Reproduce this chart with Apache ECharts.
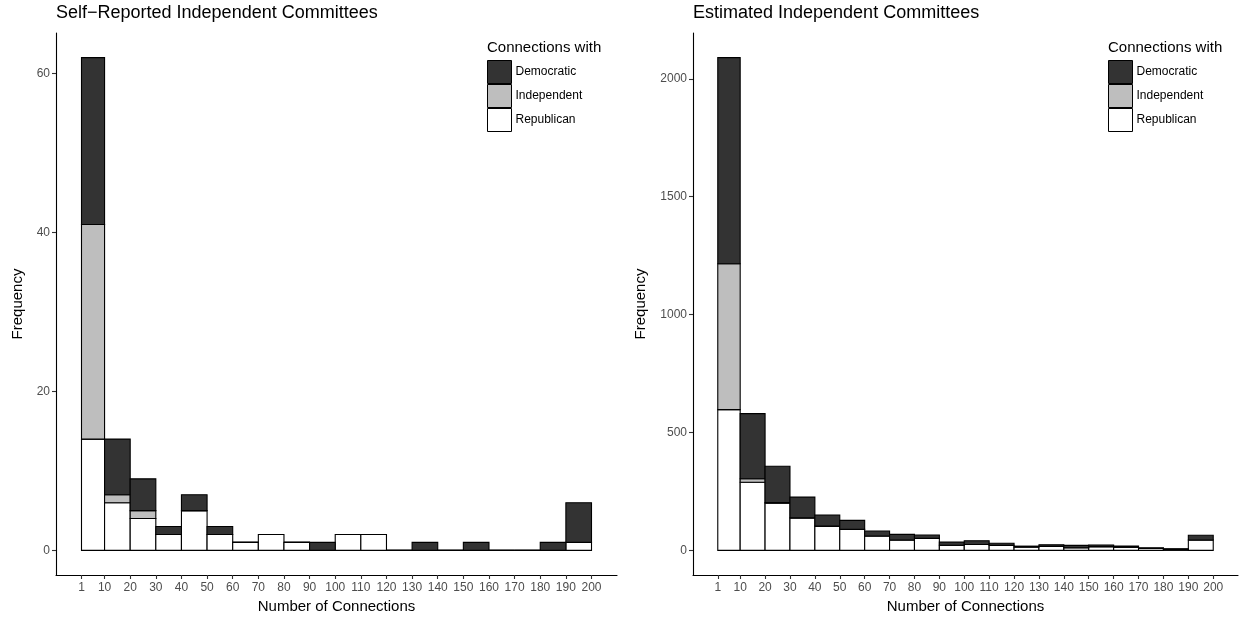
<!DOCTYPE html>
<html>
<head>
<meta charset="utf-8">
<script src="https://cdn.jsdelivr.net/npm/echarts@6/dist/echarts.min.js"></script>
<style>
  html, body { margin: 0; padding: 0; background: #fff; }
  #chart { width: 1243px; height: 619px; }
</style>
</head>
<body>
<div id="chart"></div>
<script>
// Histogram bins (number of connections)
const binStarts = [1, 10, 20, 30, 40, 50, 60, 70, 80, 90, 100, 110, 120, 130, 140, 150, 160, 170, 180, 190];
const binEnds   = [10, 20, 30, 40, 50, 60, 70, 80, 90, 100, 110, 120, 130, 140, 150, 160, 170, 180, 190, 200];
const xTicks = [1, 10, 20, 30, 40, 50, 60, 70, 80, 90, 100, 110, 120, 130, 140, 150, 160, 170, 180, 190, 200];

// Self-reported independent committees: counts per bin
const selfRepublican  = [14, 6, 4, 2, 5, 2, 1, 2, 1, 0, 2, 2, 0, 0, 0, 0, 0, 0, 0, 1];
const selfIndependent = [27, 1, 1, 0, 0, 0, 0, 0, 0, 0, 0, 0, 0, 0, 0, 0, 0, 0, 0, 0];
const selfDemocratic  = [21, 7, 4, 1, 2, 1, 0, 0, 0, 1, 0, 0, 0, 1, 0, 1, 0, 0, 1, 5];
const selfYTicks = [0, 20, 40, 60];

// Estimated independent committees: counts per bin
const estRepublican  = [597, 289, 200, 138, 103, 89, 61, 44, 51, 22, 25, 21, 14, 17, 11, 16, 13, 8, 3, 44];
const estIndependent = [619, 15, 3, 0, 0, 0, 0, 0, 0, 0, 0, 0, 0, 0, 0, 0, 0, 0, 0, 0];
const estDemocratic  = [874, 276, 154, 88, 47, 38, 21, 24, 14, 13, 16, 9, 4, 7, 10, 7, 5, 3, 4, 20];
const estYTicks = [0, 500, 1000, 1500, 2000];

const partyNames = ['Democratic', 'Independent', 'Republican'];
const partyColors = { Democratic: '#333333', Independent: '#bebebe', Republican: '#ffffff' };

// Stack order bottom→top: Republican, Independent, Democratic
function stackRows(rep, ind, dem) {
  const layers = { Republican: [], Independent: [], Democratic: [] };
  for (let i = 0; i < binStarts.length; i++) {
    let base = 0;
    [['Republican', rep], ['Independent', ind], ['Democratic', dem]].forEach(([name, arr]) => {
      const top = base + arr[i];
      layers[name].push([binStarts[i], binEnds[i], base, top]);
      base = top;
    });
  }
  return layers;
}

function renderBar(params, api) {
  const p0 = api.coord([api.value(0), api.value(3)]);
  const p1 = api.coord([api.value(1), api.value(2)]);
  return {
    type: 'rect',
    shape: { x: p0[0], y: p0[1], width: p1[0] - p0[0], height: p1[1] - p0[1] },
    style: { fill: api.visual('color'), stroke: '#000', lineWidth: 1.1 }
  };
}

function maxTotal(rep, ind, dem) {
  return Math.max(...rep.map((v, i) => v + ind[i] + dem[i]));
}

const plainNumber = v => String(v);

const panels = [
  { title: 'Self\u2212Reported Independent Committees', rep: selfRepublican, ind: selfIndependent, dem: selfDemocratic,
    yTicks: selfYTicks, grid: { left: 56, right: 626, top: 33, bottom: 44 }, nameGap: 31, legendLeft: 487 },
  { title: 'Estimated Independent Committees', rep: estRepublican, ind: estIndependent, dem: estDemocratic,
    yTicks: estYTicks, grid: { left: 693, right: 5, top: 33, bottom: 44 }, nameGap: 45, legendLeft: 1108 }
];

const option = {
  animation: false,
  backgroundColor: '#fff',
  title: [], grid: [], xAxis: [], yAxis: [], legend: [], series: []
};

panels.forEach((p, k) => {
  const top = maxTotal(p.rep, p.ind, p.dem);
  const pad = top * 0.05;
  const xPad = (binEnds[binEnds.length - 1] - binStarts[0]) * 0.05;

  option.title.push({
    text: p.title, left: p.grid.left, top: 4, padding: 0,
    textStyle: { fontFamily: 'Liberation Sans', fontSize: 18, fontWeight: 'normal', color: '#000' }
  });
  option.title.push({
    text: 'Connections with', left: p.legendLeft, top: 40, padding: 0,
    textStyle: { fontFamily: 'Liberation Sans', fontSize: 15, fontWeight: 'normal', color: '#000' }
  });
  option.grid.push(Object.assign({ containLabel: false }, p.grid));

  option.xAxis.push({
    type: 'value', gridIndex: k,
    min: binStarts[0] - xPad, max: binEnds[binEnds.length - 1] + xPad,
    axisLine: { onZero: false, lineStyle: { color: '#000', width: 1.1 } },
    axisTick: { customValues: xTicks, length: 4, lineStyle: { color: '#333', width: 1.1 } },
    axisLabel: { customValues: xTicks, formatter: plainNumber, margin: 7,
      fontFamily: 'Liberation Sans', fontSize: 12, color: '#4d4d4d' },
    splitLine: { show: false },
    name: 'Number of Connections', nameLocation: 'middle', nameGap: 23,
    nameTextStyle: { fontFamily: 'Liberation Sans', fontSize: 15, color: '#000' }
  });
  option.yAxis.push({
    type: 'value', gridIndex: k,
    min: -pad, max: top + pad,
    axisLine: { onZero: false, lineStyle: { color: '#000', width: 1.1 } },
    axisTick: { customValues: p.yTicks, length: 4, lineStyle: { color: '#333', width: 1.1 } },
    axisLabel: { customValues: p.yTicks, formatter: plainNumber, margin: 6,
      fontFamily: 'Liberation Sans', fontSize: 12, color: '#4d4d4d' },
    splitLine: { show: false },
    name: 'Frequency', nameLocation: 'middle', nameGap: p.nameGap,
    nameTextStyle: { fontFamily: 'Liberation Sans', fontSize: 15, color: '#000' }
  });

  option.legend.push({
    orient: 'vertical', left: p.legendLeft, top: 60, padding: 0,
    itemWidth: 24, itemHeight: 23, itemGap: 0, icon: 'rect',
    selectedMode: false,
    itemStyle: { borderColor: '#000', borderWidth: 1 },
    textStyle: { fontFamily: 'Liberation Sans', fontSize: 12, color: '#000', padding: [0, 0, 0, -1] },
    data: partyNames.map(n => ({ name: n, itemStyle: { color: partyColors[n], borderColor: '#000', borderWidth: 1 } }))
  });

  const layers = stackRows(p.rep, p.ind, p.dem);
  ['Republican', 'Independent', 'Democratic'].forEach(name => {
    option.series.push({
      type: 'custom', name: name,
      xAxisIndex: k, yAxisIndex: k,
      renderItem: renderBar,
      itemStyle: { color: partyColors[name], borderColor: '#000', borderWidth: 1 },
      encode: { x: [0, 1], y: [2, 3] },
      data: layers[name]
    });
  });
});

const chart = echarts.init(document.getElementById('chart'), null, { renderer: 'canvas' });
chart.setOption(option);
</script>
</body>
</html>
